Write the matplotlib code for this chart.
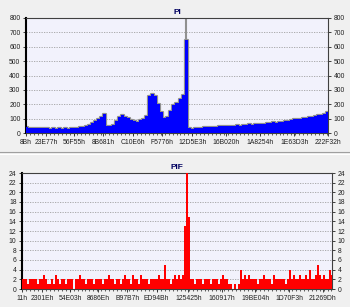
import numpy as np
import matplotlib
matplotlib.use("Agg")
import matplotlib.pyplot as plt
from matplotlib.ticker import AutoMinorLocator
from matplotlib.lines import Line2D

plt.rcParams['font.family'] = ['Liberation Sans', 'DejaVu Sans']

# PI samples, evenly spread over the scanned LBA range
pi_values = [40, 38, 35, 36, 33, 34, 32, 35, 31, 33,
             30, 32, 31, 33, 30, 32, 34, 36, 42, 45,
             48, 55, 72, 82, 95, 108, 132, 52, 48, 58,
             82, 112, 122, 112, 102, 92, 84, 80, 92, 98,
             120, 255, 270, 258, 205, 145, 102, 112, 150, 192,
             212, 238, 262, 650, 32, 30, 35, 38, 36, 40,
             42, 44, 42, 45, 48, 46, 50, 48, 52, 50,
             55, 52, 56, 58, 60, 56, 62, 60, 66, 64,
             70, 68, 74, 72, 78, 80, 84, 82, 90, 95,
             100, 98, 105, 102, 110, 112, 118, 122, 128, 135,
             145]
pi_spike_max = 800
pi_ticks = ["8Bh", "23E77h", "56F55h", "8B681h", "C10E6h", "F5776h",
            "12D5E3h", "16B020h", "1A8254h", "1E63D3h", "222F32h"]

# PIF samples
pif_values = [2, 2, 2, 1, 2, 2, 2, 2, 1, 2,
              2, 3, 2, 1, 1, 2, 1, 3, 2, 1,
              2, 2, 1, 2, 2, 2, 0, 2, 2, 3,
              2, 2, 1, 2, 2, 2, 1, 2, 2, 2,
              1, 2, 2, 3, 2, 2, 1, 2, 2, 1,
              2, 3, 2, 2, 1, 3, 2, 2, 1, 3,
              2, 2, 2, 1, 2, 2, 2, 2, 3, 2,
              2, 5, 2, 2, 1, 2, 3, 2, 3, 2,
              3, 13, 24, 15, 2, 2, 1, 2, 2, 2,
              1, 2, 2, 2, 1, 2, 2, 2, 1, 2,
              3, 2, 2, 1, 1, 0, 1, 0, 1, 4,
              2, 3, 2, 3, 2, 2, 2, 1, 2, 2,
              3, 2, 2, 2, 1, 3, 2, 2, 2, 2,
              2, 1, 2, 4, 2, 3, 2, 2, 3, 2,
              2, 3, 2, 4, 2, 2, 3, 5, 3, 2,
              3, 2, 2, 4, 3]
pif_ticks = ["11h", "2301Eh", "54E03h", "8686Eh", "B97B7h", "ED94Bh",
             "125425h", "160917h", "19BE04h", "1D70F3h", "21269Dh"]

lba_end = 0x222F32

fig = plt.figure(figsize=(3.5, 3.07), dpi=100, facecolor="#f0f0f0")
ax1 = fig.add_axes([26/350, 1-133/307, 302/350, 115/307])
ax2 = fig.add_axes([22/350, 1-289/307, 310/350, 116/307])

# separator between the two panels
fig.add_artist(Line2D([0, 1], [1-152/307, 1-152/307], color="#a0a0a0", lw=0.8))
fig.add_artist(Line2D([0, 1], [1-153.5/307, 1-153.5/307], color="#ffffff", lw=0.8))


def style(ax, ymax, ystep, ticks):
    ax.set_facecolor("#f2f2fc")
    ax.set_ylim(0, ymax)
    ax.set_yticks(np.arange(0, ymax + 1, ystep))
    ax.grid(axis="y", color="#a0a0a0", linestyle=(0, (1.5, 1.5)), lw=0.6)
    ax.set_axisbelow(True)
    ticks_v = [int(t[:-1], 16) for t in ticks]
    ax.set_xticks(ticks_v)
    ax.set_xticklabels(ticks)
    ax.xaxis.set_minor_locator(AutoMinorLocator(5))
    ax.tick_params(axis="both", which="major", labelsize=4.9, colors="#202020",
                   length=2.5, width=0.6, pad=1.5)
    ax.tick_params(axis="x", which="minor", length=1.5, width=0.5, color="#202020")
    ax.tick_params(axis="y", right=True, labelright=True)
    for s in ax.spines.values():
        s.set_color("#404040")
        s.set_linewidth(0.8)
    ax.spines["left"].set_color("#000000")
    ax.spines["left"].set_linewidth(1.5)


# PI panel
x_pi = np.linspace(0x8B, lba_end, len(pi_values))
ax1.plot(x_pi, pi_values, drawstyle="steps-mid", color="#909090", lw=1.6, zorder=2)
ax1.fill_between(x_pi, pi_values, step="mid", color="#0000ff", lw=0, zorder=3)
spike_x = x_pi[int(np.argmax(pi_values))]
ax1.vlines(spike_x, max(pi_values), pi_spike_max, color="#909090", lw=1.5, zorder=2)
ax1.set_xlim(0x8B, lba_end)
style(ax1, 800, 100, pi_ticks)
ax1.set_title("PI", fontsize=6, fontweight="bold", color="#000060", pad=3)

# PIF panel
x_pif = np.linspace(0x11, lba_end, len(pif_values))
w = x_pif[1] - x_pif[0]
ax2.bar(x_pif, pif_values, width=w, color="#ff0000", lw=0, zorder=3)
ax2.set_xlim(0x11, lba_end)
style(ax2, 24, 2, pif_ticks)
ax2.set_title("PIF", fontsize=6, fontweight="bold", color="#000060", pad=3)

fig.savefig("out.png", dpi=100, facecolor=fig.get_facecolor())
